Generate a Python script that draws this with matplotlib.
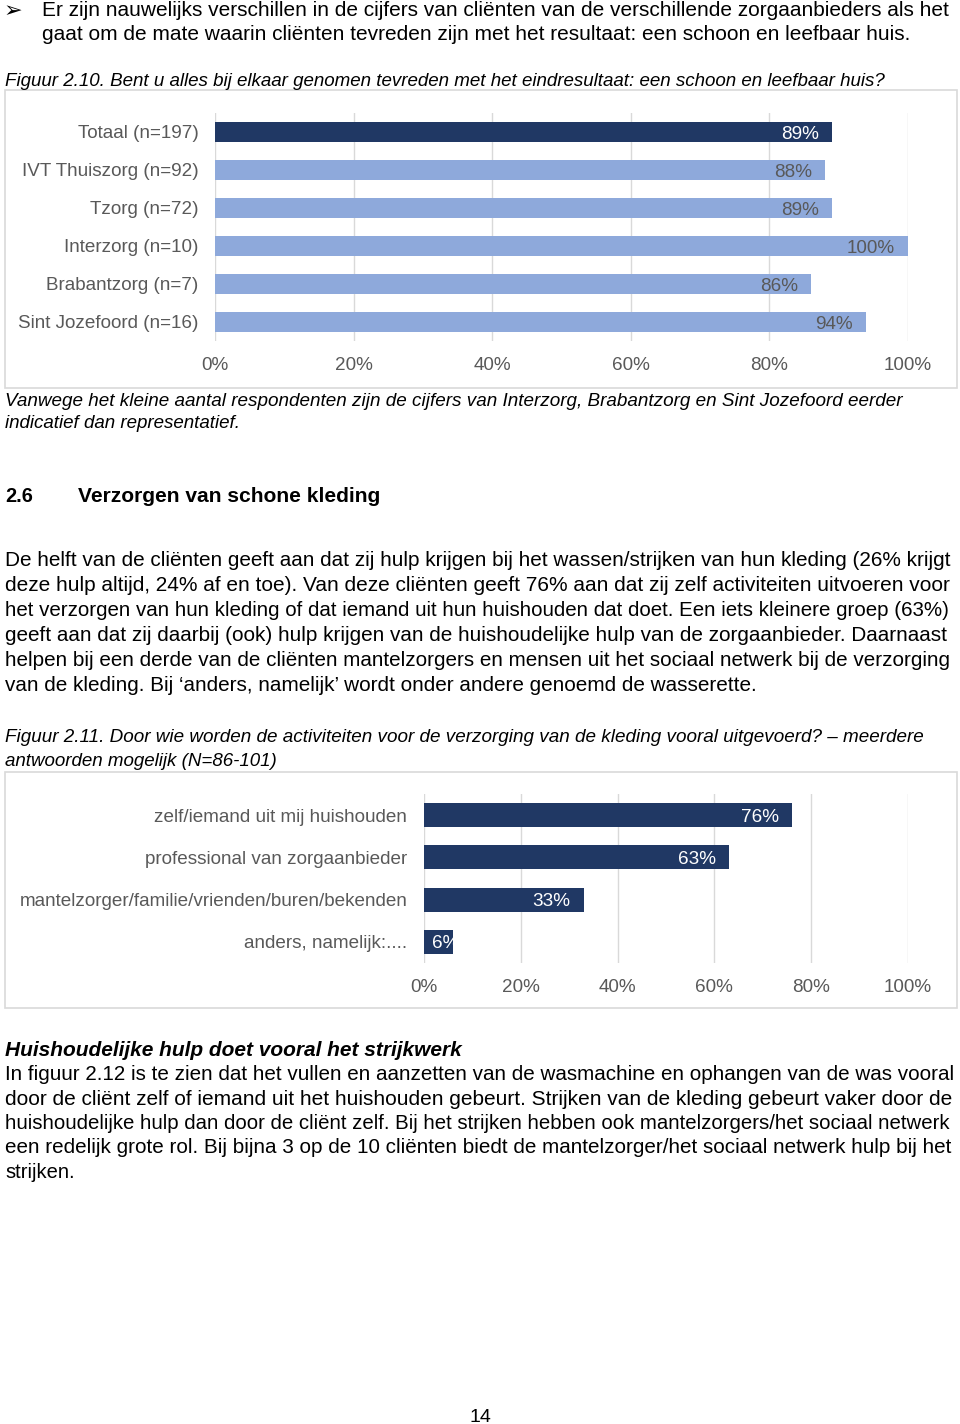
import matplotlib
matplotlib.use("Agg")
import matplotlib.pyplot as plt
from matplotlib.patches import Rectangle

plt.rcParams['font.family'] = ['Liberation Sans', 'DejaVu Sans']

# ---------------- data ----------------
cats1 = ["Totaal (n=197)", "IVT Thuiszorg (n=92)", "Tzorg (n=72)",
         "Interzorg (n=10)", "Brabantzorg (n=7)", "Sint Jozefoord (n=16)"]
vals1 = [89, 88, 89, 100, 86, 94]

cats2 = ["zelf/iemand uit mij huishouden", "professional van zorgaanbieder",
         "mantelzorger/familie/vrienden/buren/bekenden", "anders, namelijk:...."]
vals2 = [76, 63, 33, 6]

xticks = [0, 20, 40, 60, 80, 100]
xticklabels = ["0%", "20%", "40%", "60%", "80%", "100%"]

DARK = "#203864"
LIGHT = "#8EA9DB"
GRAY = "#595959"
GRID = "#D9D9D9"
LBL = 13.6

W, H = 960, 1424
fig = plt.figure(figsize=(W / 100, H / 100), dpi=100)
fig.patch.set_facecolor("white")
renderer = fig.canvas.get_renderer()
DY = 2  # vertical nudge in px


def fx(x):
    return x / W


def fy(y):
    return 1 - (y + DY) / H


def txt(x, y, s, width=None, size=14, ha='left', **kw):
    t = fig.text(fx(x), fy(y), s, fontsize=size, va='center', ha=ha, **kw)
    if width is not None:
        bb = t.get_window_extent(renderer=renderer)
        t.set_fontsize(size * width / bb.width)
    return t


def frame(x0, y0, x1, y1):
    fig.add_artist(Rectangle((x0 / W, 1 - y1 / H), (x1 - x0) / W, (y1 - y0) / H,
                             transform=fig.transFigure, fill=False,
                             edgecolor=GRID, lw=1.2))


# ---------------- top text ----------------
fig.text(fx(4), fy(9), "\u27A2", fontsize=16, va='center', ha='left',
         family=['DejaVu Sans'])
txt(42, 9, "Er zijn nauwelijks verschillen in de cijfers van cliënten van de verschillende zorgaanbieders als het", width=911)
txt(42, 33, "gaat om de mate waarin cliënten tevreden zijn met het resultaat: een schoon en leefbaar huis.", width=871)
txt(5, 79, "Figuur 2.10. Bent u alles bij elkaar genomen tevreden met het eindresultaat: een schoon en leefbaar huis?",
    width=888, style='italic')

# ---------------- chart 1 ----------------
frame(5, 90, 957, 388)
ax1 = fig.add_axes([215 / W, 1 - 341 / H, (908 - 215) / W, (341 - 113) / H])
y1 = list(range(len(cats1)))
colors1 = [DARK] + [LIGHT] * (len(cats1) - 1)
bars1 = ax1.barh(y1, vals1, height=0.55, color=colors1, zorder=3)
ax1.set_xlim(0, 100)
ax1.set_ylim(len(cats1) - 0.5, -0.5)
ax1.set_yticks(y1)
ax1.set_yticklabels(cats1)
ax1.set_xticks(xticks)
ax1.set_xticklabels(xticklabels)
ax1.grid(axis='x', color=GRID, lw=1, zorder=0)
ax1.tick_params(length=0, labelsize=LBL, labelcolor=GRAY)
ax1.tick_params(axis='y', pad=12)
ax1.tick_params(axis='x', pad=11.5)
for s in ax1.spines.values():
    s.set_visible(False)
for i, (b, v) in enumerate(zip(bars1, vals1)):
    ax1.annotate(f"{v}%", xy=(v, i), xytext=(-9.5, -1.5), textcoords='offset points',
                 ha='right', va='center', fontsize=LBL,
                 color='white' if i == 0 else GRAY, zorder=4)

txt(5, 400, "Vanwege het kleine aantal respondenten zijn de cijfers van Interzorg, Brabantzorg en Sint Jozefoord eerder",
    width=900, style='italic')
txt(5, 422, "indicatief dan representatief.", width=236, style='italic')

# ---------------- section 2.6 ----------------
txt(5, 494, "2.6", width=28, weight='bold')
txt(78, 494, "Verzorgen van schone kleding", width=303, weight='bold')

para1 = [
    ("De helft van de cliënten geeft aan dat zij hulp krijgen bij het wassen/strijken van hun kleding (26% krijgt", 952),
    ("deze hulp altijd, 24% af en toe). Van deze cliënten geeft 76% aan dat zij zelf activiteiten uitvoeren voor", 952),
    ("het verzorgen van hun kleding of dat iemand uit hun huishouden dat doet. Een iets kleinere groep (63%)", 952),
    ("geeft aan dat zij daarbij (ook) hulp krijgen van de huishoudelijke hulp van de zorgaanbieder. Daarnaast", 952),
    ("helpen bij een derde van de cliënten mantelzorgers en mensen uit het sociaal netwerk bij de verzorging", 952),
    ("van de kleding. Bij \u2018anders, namelijk\u2019 wordt onder andere genoemd de wasserette.", 760),
]
for k, (line, w) in enumerate(para1):
    txt(5, 558 + k * 25.2, line, width=w)

txt(5, 735, "Figuur 2.11. Door wie worden de activiteiten voor de verzorging van de kleding vooral uitgevoerd? \u2013 meerdere",
    width=920, style='italic')
txt(5, 760, "antwoorden mogelijk (N=86-101)", width=274, style='italic')

# ---------------- chart 2 ----------------
frame(5, 772, 957, 1008)
ax2 = fig.add_axes([424 / W, 1 - 963 / H, (908 - 424) / W, (963 - 794) / H])
y2 = list(range(len(cats2)))
bars2 = ax2.barh(y2, vals2, height=0.57, color=DARK, zorder=3)
ax2.set_xlim(0, 100)
ax2.set_ylim(len(cats2) - 0.5, -0.5)
ax2.set_yticks(y2)
ax2.set_yticklabels(cats2)
ax2.set_xticks(xticks)
ax2.set_xticklabels(xticklabels)
ax2.grid(axis='x', color=GRID, lw=1, zorder=0)
ax2.tick_params(length=0, labelsize=LBL, labelcolor=GRAY)
ax2.tick_params(axis='y', pad=12)
ax2.tick_params(axis='x', pad=11.5)
for s in ax2.spines.values():
    s.set_visible(False)
for i, (b, v) in enumerate(zip(bars2, vals2)):
    if v >= 10:
        ax2.annotate(f"{v}%", xy=(v, i), xytext=(-9.5, -1.5), textcoords='offset points',
                     ha='right', va='center', fontsize=LBL, color='white', zorder=4)
    else:
        ax2.annotate(f"{v}%", xy=(0, i), xytext=(6, -1.5), textcoords='offset points',
                     ha='left', va='center', fontsize=LBL, color='white', zorder=4)

# ---------------- bottom text ----------------
txt(5, 1049, "Huishoudelijke hulp doet vooral het strijkwerk", width=459, weight='bold', style='italic')
para2 = [
    ("In figuur 2.12 is te zien dat het vullen en aanzetten van de wasmachine en ophangen van de was vooral", 952),
    ("door de cliënt zelf of iemand uit het huishouden gebeurt. Strijken van de kleding gebeurt vaker door de", 952),
    ("huishoudelijke hulp dan door de cliënt zelf. Bij het strijken hebben ook mantelzorgers/het sociaal netwerk", 952),
    ("een redelijk grote rol. Bij bijna 3 op de 10 cliënten biedt de mantelzorger/het sociaal netwerk hulp bij het", 952),
    ("strijken.", 70),
]
for k, (line, w) in enumerate(para2):
    txt(5, 1073 + k * 24.3, line, width=w)

txt(480, 1416, "14", size=14, ha='center')

fig.savefig("out.png", dpi=100, facecolor="white")
